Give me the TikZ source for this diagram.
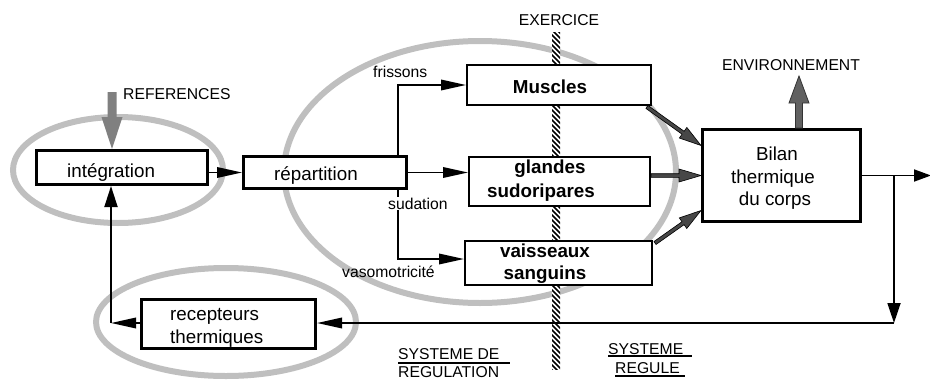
\documentclass[tikz,border=0pt]{standalone}
\usepackage{fontspec}
\setmainfont{Liberation Sans}
\usetikzlibrary{calc,arrows.meta}
\newcommand{\fatarrow}[6]{%
  \coordinate (fh) at ($(#2)!#5!(#1)$);
  \path[#6] ($(#1)!#3!90:(#2)$) -- ($(fh)!#3!90:(#2)$) -- ($(fh)!#4!90:(#2)$) -- (#2)
    -- ($(fh)!#4!-90:(#2)$) -- ($(fh)!#3!-90:(#2)$) -- ($(#1)!#3!-90:(#2)$) -- cycle;}
\begin{document}
\begin{tikzpicture}[x=1pt,y=-1pt,
  big/.style={font=\fontsize{18.8pt}{22.5pt}\selectfont, inner sep=0pt},
  bigb/.style={font=\fontsize{18.8pt}{22.5pt}\selectfont\bfseries, inner sep=0pt},
  small/.style={font=\fontsize{15.7pt}{19pt}\selectfont, inner sep=0pt},
  thickbox/.style={draw, line width=3.3pt, fill=white, inner sep=0pt},
  thinbox/.style={draw, line width=1.7pt, fill=white, inner sep=0pt},
  conn/.style={line width=1.8pt, -{Triangle[length=25pt,width=10.5pt]}},
  halo/.style={draw=black!25, line width=6pt},
  sidearrow/.style={fill=black!72, draw=black, line width=0.6pt},
  refarrow/.style={fill=black!50},
  envarrow/.style={fill=black!62, draw=black!80, line width=0.8pt},
  uline/.style={line width=1.5pt}]
\useasboundingbox (0,0) rectangle (930,381);

% gray ellipses
\draw[halo] (118,170) ellipse [x radius=105, y radius=53];
\draw[halo] (480,172) ellipse [x radius=196, y radius=131];
\draw[halo] (226,322) ellipse [x radius=130, y radius=54];

% hatched bar (EXERCICE)
\begin{scope}
  \clip (552,32) rectangle (560,369);
  \fill[white] (552,32) rectangle (560,369);
  \foreach \t in {16,21,...,375} \draw[line width=1.7pt] (548,\t) -- (564,\t+16);
\end{scope}

% boxes
\node[thickbox, minimum width=170.7pt, minimum height=33.7pt] (integ) at (122,167.5) {};
\node[thickbox, minimum width=162.7pt, minimum height=31.7pt] (repart) at (325,172.5) {};
\node[thinbox, minimum width=184.3pt, minimum height=40.3pt] (musc) at (559,85) {};
\node[thinbox, minimum width=181.3pt, minimum height=49.3pt] (gland) at (559.5,181.5) {};
\node[thinbox, minimum width=187.3pt, minimum height=44.3pt] (vaiss) at (558.5,263) {};
\node[thickbox, minimum width=157.7pt, minimum height=91.7pt] (bilan) at (781.5,175.5) {};
\node[thickbox, minimum width=173.7pt, minimum height=48.7pt] (recep) at (228.5,324) {};

% texts in boxes
\node[big, anchor=base west] (tinteg) at (67,177) {intégration};
\node[big, anchor=base west] (trep) at (274,180) {répartition};
\node[bigb, anchor=base] (tmus) at (550,93) {Muscles};
\node[bigb, anchor=base] (tgl1) at (550,173) {glandes};
\node[bigb, anchor=base] (tgl2) at (541,197) {sudoripares};
\node[bigb, anchor=base] (tva1) at (545,257) {vaisseaux};
\node[bigb, anchor=base] (tva2) at (545,279) {sanguins};
\node[big, anchor=base] (tbi1) at (777,160) {Bilan};
\node[big, anchor=base] (tbi2) at (773,183) {thermique};
\node[big, anchor=base] (tbi3) at (775,205) {du corps};
\node[big, anchor=base west] (tre1) at (170,320) {recepteurs};
\node[big, anchor=base west] (tre2) at (170,343) {thermiques};

% coordinates
\coordinate (br) at (398,0);
\coordinate (bx) at (894,0);
\coordinate (fx) at (111,0);
\coordinate (out) at (931,0);
\coordinate (vin) at ($(vaiss.west)+(0,-4)$);
\coordinate (fb) at (894,323);

% connectors
\draw[conn] (repart.west -| integ.east) -- (repart.west);
\draw[conn] (repart.north -| br) |- (musc.west);
\draw[conn] (repart.east) -- (repart.east -| gland.west);
\draw[conn] (repart.south -| br) |- (vin);
\draw[line width=1.8pt, -{Triangle[length=17pt,width=12pt]}] (bilan.east) -- (bilan.east -| out);
\draw[line width=1.8pt, -{Triangle[length=20pt,width=13pt]}] (bilan.east -| bx) -- (fb);
\draw[conn] (fb) -- (fb -| recep.east);
\draw[conn] (fb -| recep.west) -- (fx |- fb);
\draw[line width=1.8pt, -{Triangle[length=21pt,width=13pt]}] (fx |- fb) -- (fx |- integ.south);

% fat arrows
\coordinate (mA) at ($(musc.south east)+(-5,1)$);
\coordinate (mB) at ($(bilan.west)+(0,-30)$);
\coordinate (gA) at (gland.east |- bilan.west);
\coordinate (gB) at (bilan.west);
\coordinate (vA) at ($(vaiss.north east)+(2,3)$);
\coordinate (vB) at ($(bilan.west)+(0,35)$);
\fatarrow{mA}{mB}{1.8pt}{6.5pt}{22pt}{sidearrow}
\fatarrow{gA}{gB}{1.8pt}{6.5pt}{22pt}{sidearrow}
\fatarrow{vA}{vB}{1.8pt}{6.5pt}{22pt}{sidearrow}
\coordinate (refs) at (112,92);
\coordinate (refB) at (refs |- integ.north);
\fatarrow{refs}{refB}{4.5pt}{10.5pt}{32pt}{refarrow}
\coordinate (envx) at (799,0);
\coordinate (envA) at (bilan.north -| envx);
\coordinate (envB) at (799,76);
\fatarrow{envA}{envB}{3.5pt}{10pt}{27pt}{envarrow}

% labels
\node[small, anchor=base west] (lref) at (123,99) {REFERENCES};
\node[small, anchor=base] (lexe) at (559,25) {EXERCICE};
\node[small, anchor=base] (lenv) at (791,70) {ENVIRONNEMENT};
\node[small, anchor=base west] (lfri) at (373,77) {frissons};
\node[small, anchor=base west, fill=white, inner sep=1pt] (lsud) at (387,209) {sudation};
\node[small, anchor=base west] (lvas) at (342,277) {vasomotricité};
\node[small, anchor=base west] (lsr1) at (398,359) {SYSTEME DE};
\node[small, anchor=base west] (lsr2) at (398,377) {REGULATION};
\node[small, anchor=base west] (lsg1) at (608,354) {SYSTEME};
\node[small, anchor=base west] (lsg2) at (615,373) {REGULE};
\draw[uline] (398,363) -- (510,363);
\draw[uline] (608,356) -- (692,356);
\draw[uline] (615,376) -- (685,376);
\end{tikzpicture}
\end{document}
